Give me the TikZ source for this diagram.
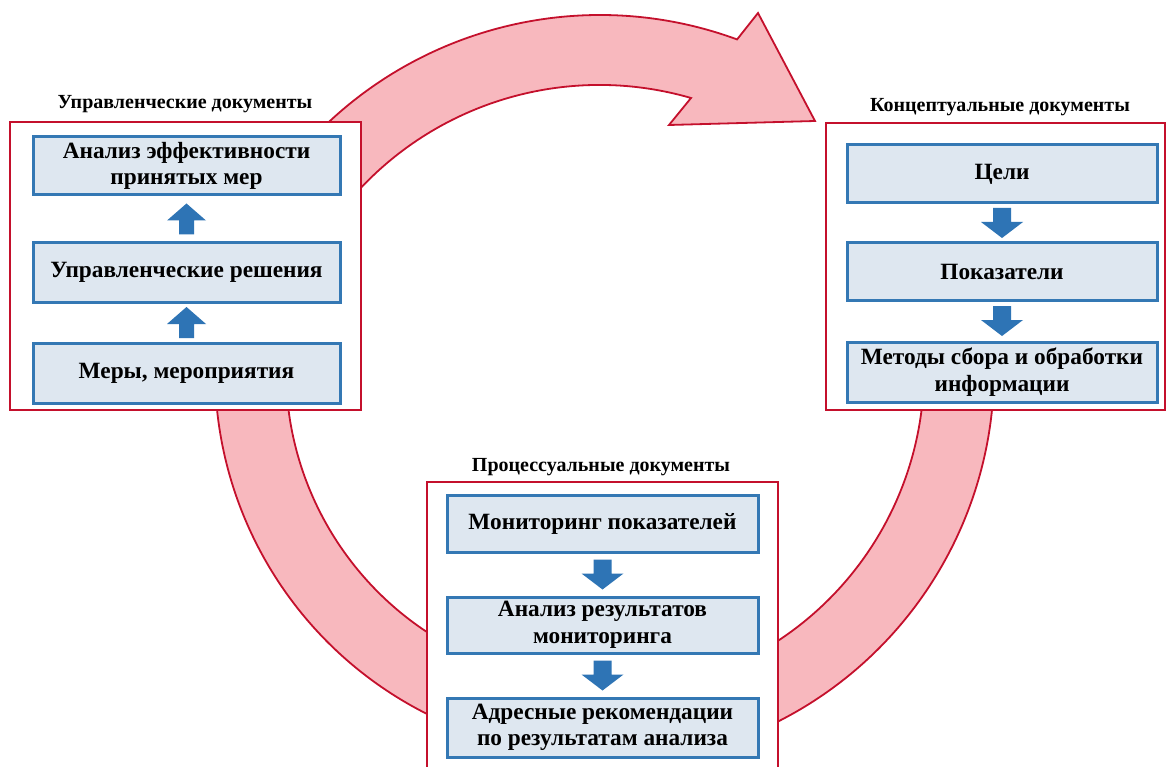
\documentclass[tikz,border=0pt]{standalone}
\usepackage{fontspec}
\setmainfont{Liberation Serif}
\usetikzlibrary{calc}
\definecolor{redline}{RGB}{196,16,44}
\definecolor{pinkfill}{RGB}{248,184,190}
\definecolor{boxblue}{RGB}{52,120,180}
\definecolor{boxfill}{RGB}{222,231,240}
\definecolor{arrblue}{RGB}{46,116,181}
\begin{document}
\begin{tikzpicture}[x=1pt,y=1pt,
  outerbox/.style={draw=redline, line width=2.6pt, fill=white, inner sep=0pt},
  innerbox/.style={draw=boxblue, line width=3pt, fill=boxfill, align=center,
    font=\fontsize{23.3}{26.5}\selectfont\bfseries, inner sep=0pt},
  grouptitle/.style={font=\fontsize{20}{23}\selectfont\bfseries, inner sep=0pt},
  bigarrow/.style={draw=redline, line width=1.8pt, fill=pinkfill, line join=miter},
  uparr/.pic={\fill[arrblue] (-7.5,-15.5) -- (-7.5,-1.5) -- (-19.5,-1.5) -- (0,15.5)
     -- (19.5,-1.5) -- (7.5,-1.5) -- (7.5,-15.5) -- cycle;},
  downarr/.pic={\fill[arrblue] (-9,15) -- (-9,1) -- (-21,1) -- (0,-15)
     -- (21,1) -- (9,1) -- (9,15) -- cycle;},
]
\useasboundingbox (0,0) rectangle (1166,-767);
\clip (0,0) rectangle (1166,-767);

\coordinate (C1) at (600,-412);
\coordinate (C2) at (600,-370);

% big arrows
\draw[bigarrow] ([shift={(140:397pt)}]C1) arc[start angle=140, end angle=69.8, radius=397pt]
  -- (758,-13) -- (815,-121) -- (669,-125) -- (691,-98)
  arc[start angle=73.8, end angle=145, radius=328pt] -- cycle;
\draw[bigarrow] ([shift={(175:385pt)}]C2) arc[start angle=175, end angle=250, radius=385pt]
  -- ([shift={(250:314pt)}]C2) arc[start angle=250, end angle=175, radius=314pt] -- cycle;
\draw[bigarrow] ([shift={(5:394pt)}]C2) arc[start angle=5, end angle=-70, radius=394pt]
  -- ([shift={(-70:324pt)}]C2) arc[start angle=-70, end angle=5, radius=324pt] -- cycle;

% outer boxes
\node[outerbox, minimum width=351pt, minimum height=288pt] (Lbox) at (185.5,-266) {};
\node[outerbox, minimum width=339pt, minimum height=287pt] (Rbox) at (995.5,-266.5) {};
\node[outerbox, minimum width=351pt, minimum height=318pt] (Bbox) at (602.5,-641) {};

% titles
\node[grouptitle] (Lt) at (185,-104) {Управленческие документы};
\node[grouptitle] (Rt) at (1000,-107) {Концептуальные документы};
\node[grouptitle] (Bt) at (601,-467) {Процессуальные документы};

% left inner boxes
\node[innerbox, minimum width=307pt, minimum height=58pt] (L1) at (186.5,-166) {Анализ эффективности\\принятых мер};
\node[innerbox, minimum width=307pt, minimum height=59pt] (L2) at (186.5,-272.5) {Управленческие решения};
\node[innerbox, minimum width=307pt, minimum height=60pt] (L3) at (186.5,-373) {Меры, мероприятия};

% right inner boxes
\node[innerbox, minimum width=310pt, minimum height=58pt] (R1) at (1002,-174) {Цели};
\node[innerbox, minimum width=310pt, minimum height=57pt] (R2) at (1002,-271.5) {Показатели};
\node[innerbox, minimum width=310pt, minimum height=60pt] (R3) at (1002,-372) {Методы сбора и обработки\\информации};

% bottom inner boxes
\node[innerbox, minimum width=311pt, minimum height=57pt] (B1) at (602.5,-523.5) {Мониторинг показателей};
\node[innerbox, minimum width=311pt, minimum height=56pt] (B2) at (602.5,-625) {Анализ результатов\\мониторинга};
\node[innerbox, minimum width=311pt, minimum height=59pt] (B3) at (602.5,-727.5) {Адресные рекомендации\\по результатам анализа};

% small arrows
\pic at ($(L3.north)!0.5!(L2.south)$) {uparr};
\pic at ($(L2.north)!0.5!(L1.south)$) {uparr};
\pic at ($(R1.south)!0.5!(R2.north)$) {downarr};
\pic at ($(R2.south)!0.5!(R3.north)$) {downarr};
\pic at ($(B1.south)!0.5!(B2.north)$) {downarr};
\pic at ($(B2.south)!0.5!(B3.north)$) {downarr};
\end{tikzpicture}
\end{document}
